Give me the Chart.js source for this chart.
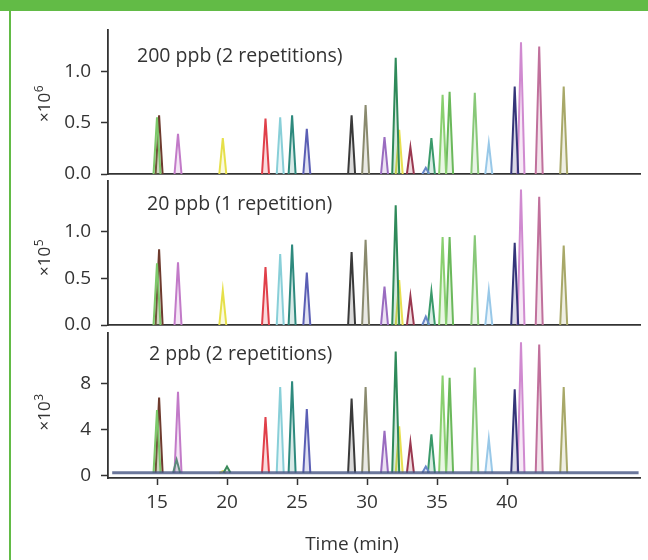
<!DOCTYPE html>
<html>
<head>
<meta charset="utf-8">
<script src="https://cdn.jsdelivr.net/npm/chart.js@4"></script>
<style>
  html, body { margin: 0; padding: 0; background: #fff; }
  #page { position: relative; width: 648px; height: 560px; overflow: hidden; }
  #topBar { position: absolute; left: 0; top: 0; width: 648px; height: 11px; background: #62bb46; }
  #leftBar { position: absolute; left: 9px; top: 0; width: 2px; height: 560px; background: #62bb46; }
  canvas { position: absolute; left: 0; top: 0; }
</style>
</head>
<body>
<div id="page">
  <div id="topBar"></div>
  <div id="leftBar"></div>
  <canvas id="chart200" width="648" height="560"></canvas>
  <canvas id="chart20" width="648" height="560"></canvas>
  <canvas id="chart2" width="648" height="560"></canvas>
</div>
<script>
// retention times (min) and colours of the compounds
const peakTimes = [15.0, 15.15, 16.5, 19.7, 22.75, 23.8, 24.65, 25.7, 28.9, 29.9, 31.25, 32.05,
  32.3, 33.1, 34.2, 34.6, 35.4, 35.9, 37.7, 38.7, 40.55, 41.0, 42.3, 44.05];
const peakColors = ["#7cc86a", "#6e3b2e", "#c27ac8", "#e6e04a", "#e0404a", "#88cfd8", "#2e8a7e", "#5b5fb5",
  "#3a3a3a", "#8a8a6e", "#9a6cc0", "#2f8a5a", "#e8e050", "#9a3850", "#6a88c8", "#3a9a6a",
  "#8ad070", "#6ab85a", "#88c878", "#98c8e8", "#35357a", "#d08ad0", "#c0709c", "#a8a868"];

// peak heights per concentration
const heights200 = [0.55, 0.57, 0.39, 0.35, 0.54, 0.55, 0.57, 0.44, 0.57, 0.67, 0.36, 1.13,
  0.43, 0.26, 0.06, 0.35, 0.77, 0.80, 0.79, 0.30, 0.85, 1.28, 1.24, 0.85];   // x10^6
const heights20 = [0.66, 0.81, 0.67, 0.37, 0.62, 0.76, 0.86, 0.56, 0.78, 0.91, 0.41, 1.28,
  0.48, 0.31, 0.09, 0.36, 0.94, 0.94, 0.96, 0.37, 0.88, 1.45, 1.37, 0.85];   // x10^5
const heights2 = [5.7, 6.8, 7.3, 0.4, 5.1, 7.7, 8.2, 5.8, 6.7, 7.7, 3.9, 10.8,
  4.3, 2.9, 0.8, 3.6, 8.7, 8.5, 9.4, 3.2, 7.5, 11.6, 11.4, 7.7];             // x10^3

// small bumps and baseline of the 2 ppb trace
const bumpTimes2 = [16.4, 20.0];
const bumpHeights2 = [1.4, 0.8];
const bumpColors2 = ["#5a8a7a", "#3a8a5a"];
const baseTimes2 = [11.8, 49.4];
const baseValues2 = [0.25, 0.25];

const xTicks = [15, 20, 25, 30, 35, 40];
const yTicks200 = [0, 0.5, 1.0];
const yTicks20 = [0, 0.5, 1.0];
const yTicks2 = [0, 4, 8];

const FONT = "'Open Sans', 'Noto Sans', sans-serif";
Chart.defaults.font.family = FONT;
Chart.defaults.color = "#333";

const HALF = 0.25;
const INK = "#333";

function peakSets(times, heights, colors, base) {
  return times.map((t, i) => ({
    data: [{ x: t - HALF, y: base }, { x: t, y: heights[i] }, { x: t + HALF, y: base }],
    borderColor: colors[i],
    backgroundColor: colors[i] + "30",
    borderWidth: 2,
    pointRadius: 0,
    fill: { value: base },
    tension: 0
  }));
}

// panel caption, rotated unit label (x10 with superscript) and bottom axis title
const panelText = {
  id: "panelText",
  afterDraw(chart, args, opts) {
    const { ctx, chartArea } = chart;
    ctx.save();
    ctx.fillStyle = INK;
    ctx.font = "19.5px " + FONT;
    ctx.textBaseline = "alphabetic";
    ctx.textAlign = "left";
    ctx.fillText(opts.text, chartArea.left + opts.dx, chartArea.top + opts.dy);

    // unit, read bottom to top
    const cy = (chartArea.top + chartArea.bottom) / 2 + opts.unitDy;
    ctx.translate(44, cy);
    ctx.rotate(-Math.PI / 2);
    ctx.textBaseline = "middle";
    const base = "×10";
    ctx.font = "17px " + FONT;
    const w1 = ctx.measureText(base).width;
    ctx.font = "12px " + FONT;
    const w2 = ctx.measureText(opts.exp).width;
    const x0 = -(w1 + w2) / 2;
    ctx.font = "17px " + FONT;
    ctx.fillText(base, x0, 1);
    ctx.font = "12px " + FONT;
    ctx.fillText(opts.exp, x0 + w1 + 0.5, -4);
    ctx.restore();

    if (opts.xTitle) {
      ctx.save();
      ctx.fillStyle = INK;
      ctx.font = "19px " + FONT;
      ctx.textAlign = "center";
      ctx.textBaseline = "middle";
      ctx.fillText(opts.xTitle, 352, 545);
      ctx.restore();
    }
  }
};

function makePanel(id, datasets, yMin, yMax, yTicks, fmt, text, pad, bottom) {
  new Chart(document.getElementById(id), {
    type: "line",
    data: { datasets },
    plugins: [panelText],
    options: {
      responsive: false,
      animation: false,
      layout: { padding: { left: 0, right: 8, top: pad.top, bottom: pad.bottom } },
      plugins: {
        legend: { display: false },
        tooltip: { enabled: false },
        panelText: text
      },
      scales: {
        x: {
          type: "linear",
          min: 11.5,
          max: 49.5,
          afterBuildTicks: s => { s.ticks = xTicks.map(v => ({ value: v })); },
          afterFit: s => {
            s.height = bottom ? 82 : 0;
            s.paddingLeft = 0; s.paddingRight = 0; s.paddingTop = 0; s.paddingBottom = 0;
          },
          ticks: { display: bottom, font: { size: 19 }, padding: 6, color: INK, maxRotation: 0 },
          grid: { drawOnChartArea: false, drawTicks: bottom, tickLength: 7, tickColor: INK, tickWidth: 1.5 },
          border: { display: true, color: INK, width: 1.8 }
        },
        y: {
          min: yMin,
          max: yMax,
          afterBuildTicks: s => { s.ticks = yTicks.map(v => ({ value: v })); },
          afterFit: s => {
            s.width = 108;
            s.paddingLeft = 0; s.paddingRight = 0; s.paddingTop = 0; s.paddingBottom = 0;
          },
          ticks: { font: { size: 19 }, padding: 10, color: INK, callback: fmt },
          grid: { drawOnChartArea: false, tickLength: 7, tickColor: INK, tickWidth: 1.5 },
          border: { display: true, color: INK, width: 1.8 }
        }
      }
    }
  });
}

const sets2 = [{
  data: baseTimes2.map((t, i) => ({ x: t, y: baseValues2[i] })),
  borderColor: "rgba(70,85,130,0.8)",
  borderWidth: 3,
  pointRadius: 0,
  fill: false
}].concat(peakSets(bumpTimes2, bumpHeights2, bumpColors2, 0.25), peakSets(peakTimes, heights2, peakColors, 0.25));

makePanel("chart200", peakSets(peakTimes, heights200, peakColors, 0), 0, 1.4, yTicks200, v => v.toFixed(1),
  { text: "200 ppb (2 repetitions)", dx: 29, dy: 32, exp: "6", unitDy: 2 },
  { top: 30, bottom: 386 }, false);
makePanel("chart20", peakSets(peakTimes, heights20, peakColors, 0), 0, 1.54, yTicks20, v => v.toFixed(1),
  { text: "20 ppb (1 repetition)", dx: 39, dy: 29, exp: "5", unitDy: 5 },
  { top: 181, bottom: 235 }, false);
makePanel("chart2", sets2, -0.2, 12.4, yTicks2, v => String(v),
  { text: "2 ppb (2 repetitions)", dx: 41, dy: 27, exp: "3", unitDy: 7, xTitle: "Time (min)" },
  { top: 333, bottom: 0 }, true);
</script>
</body>
</html>
